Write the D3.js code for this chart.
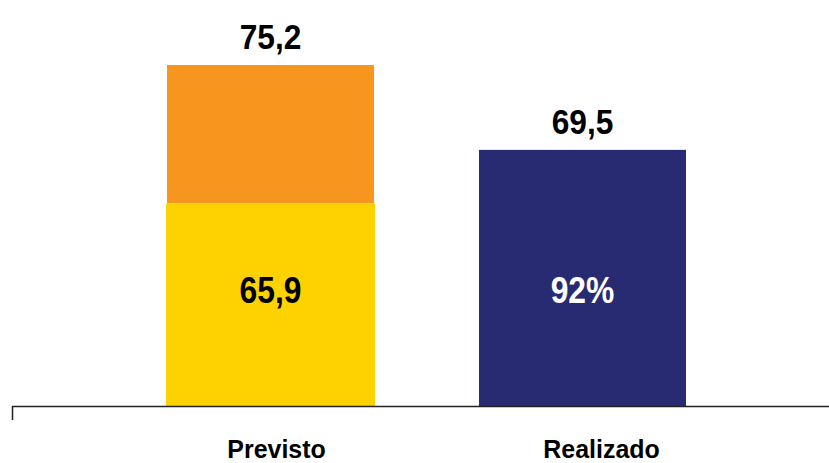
<!DOCTYPE html>
<html>
<head>
  <meta charset="utf-8">
  <title>Previsto x Realizado</title>
  <style>
    html, body {
      margin: 0;
      padding: 0;
      background: #ffffff;
    }
    svg {
      display: block;
    }
    .lbl {
      font-family: "Liberation Sans", Arial, sans-serif;
      font-weight: bold;
      text-anchor: middle;
    }
  </style>
</head>
<body>
  <svg id="chart" width="829" height="463"></svg>

  <script src="https://d3js.org/d3.v7.min.js"></script>
  <script>
    // data
    const categories = ["Previsto", "Realizado"];
    const baseValues = [65.9, null];      // yellow segment of Previsto
    const totalValues = [75.2, 69.5];     // bar totals
    const innerLabels = ["65,9", "92%"];
    const topLabels = ["75,2", "69,5"];

    const svg = d3.select("#chart");

    const x = d3.scaleBand()
      .domain(categories)
      .range([114.5, 738.5])
      .paddingInner(0.3365)
      .paddingOuter(0.3365 / 2);

    // category labels sit a bit to the right of the bars
    const xLabel = d3.scaleBand()
      .domain(categories)
      .range([114, 764]);

    // axis does not start at zero
    const y = d3.scaleLinear()
      .domain([52.3, 75.2])
      .range([406, 65]);

    const bars = categories.map((c, i) => ({
      cat: c,
      base: baseValues[i],
      total: totalValues[i],
      inner: innerLabels[i],
      top: topLabels[i]
    }));

    // Previsto: orange top part, yellow bottom part
    const prev = bars[0];
    svg.append("rect")
      .attr("x", x(prev.cat))
      .attr("width", x.bandwidth())
      .attr("y", y(prev.total))
      .attr("height", y(prev.base) - y(prev.total))
      .attr("fill", "#F7961F");
    svg.append("rect")
      .attr("x", x(prev.cat) - 1)
      .attr("width", x.bandwidth() + 2)
      .attr("y", y(prev.base))
      .attr("height", y.range()[0] - y(prev.base))
      .attr("fill", "#FDD200");

    // Realizado
    const real = bars[1];
    svg.append("rect")
      .attr("x", x(real.cat))
      .attr("width", x.bandwidth())
      .attr("y", y(real.total))
      .attr("height", y.range()[0] - y(real.total))
      .attr("fill", "#282A72");

    // narrow bold look: squeeze the text horizontally
    const squeeze = (px, py, k) => `translate(${px},${py}) scale(${k},1)`;

    // value labels above the bars
    svg.selectAll("text.top")
      .data(bars)
      .enter()
      .append("text")
      .attr("class", "lbl top")
      .attr("transform", d => squeeze(x(d.cat) + x.bandwidth() / 2, y(d.total) - 16, 0.88))
      .attr("font-size", 36)
      .attr("fill", "#000")
      .text(d => d.top);

    // labels inside the bars
    svg.selectAll("text.inner")
      .data(bars)
      .enter()
      .append("text")
      .attr("class", "lbl inner")
      .attr("transform", d => squeeze(x(d.cat) + x.bandwidth() / 2, 303, 0.86))
      .attr("font-size", 37)
      .attr("fill", (d, i) => i === 0 ? "#000" : "#fff")
      .text(d => d.inner);

    // baseline with left tick
    svg.append("path")
      .attr("d", "M12.5,420V406.5H829")
      .attr("fill", "none")
      .attr("stroke", "#222")
      .attr("stroke-width", 1.5);

    // category labels
    svg.selectAll("text.cat")
      .data(categories)
      .enter()
      .append("text")
      .attr("class", "lbl cat")
      .attr("transform", d => squeeze(xLabel(d) + xLabel.bandwidth() / 2, 458, 0.96))
      .attr("font-size", 26)
      .attr("fill", "#000")
      .text(d => d);
  </script>
</body>
</html>
